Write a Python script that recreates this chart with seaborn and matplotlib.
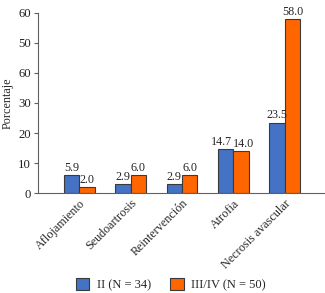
import matplotlib
matplotlib.use("Agg")
import matplotlib.pyplot as plt
import seaborn as sns
import pandas as pd

categories = ["Aflojamiento", "Seudoartrosis", "Reintervención", "Atrofia", "Necrosis avascular"]
series_names = ["II (N = 34)", "III/IV (N = 50)"]
values_ii = [5.9, 2.9, 2.9, 14.7, 23.5]
values_iiiiv = [2.0, 6.0, 6.0, 14.0, 58.0]
ytick_values = [0, 10, 20, 30, 40, 50, 60]
ytick_labels = ["0", "10", "20", "30", "60", "50", "60"]
colors = ["#4472C4", "#FF6600"]

rows = []
for c, a, b in zip(categories, values_ii, values_iiiiv):
    rows.append({"cat": c, "serie": series_names[0], "val": a})
    rows.append({"cat": c, "serie": series_names[1], "val": b})
df = pd.DataFrame(rows)

sns.set_style("white")
plt.rcParams["font.family"] = ["Liberation Serif", "DejaVu Serif"]
FS = 8.7

fig = plt.figure(figsize=(3.25, 2.93), dpi=100)
ax = fig.add_axes([0.117, 0.341, 0.883, 0.615])
sns.barplot(data=df, x="cat", y="val", hue="serie", palette=colors, width=0.6,
            edgecolor="#3a3a3a", linewidth=0.8, ax=ax, saturation=1)

for ci, cont in enumerate(ax.containers):
    texts = ax.bar_label(cont, fmt="%.1f", padding=1, fontsize=FS, clip_on=False)
    # nudge the crowded pair in the 4th group apart
    t = texts[3]
    dx = -3 if ci == 0 else 2
    t.xyann = (t.xyann[0] + dx, t.xyann[1])

ax.set_ylim(0, 60)
ax.set_xlim(-0.8, 4.78)
ax.set_yticks(ytick_values)
ax.set_yticklabels(ytick_labels, fontsize=FS + 0.5)
ax.set_xticks(range(len(categories)))
ax.set_xticklabels(categories, rotation=45, ha="right", rotation_mode="anchor", fontsize=FS)
ax.tick_params(axis="x", length=0, pad=3)
ax.tick_params(axis="y", length=3, width=0.8, direction="out", pad=2, left=True, colors="#222222")
ax.tick_params(axis="y", color="#606060")
ax.set_xlabel("")
ax.set_ylabel("Porcentaje", fontsize=FS, labelpad=3)
for s in ["top", "right"]:
    ax.spines[s].set_visible(False)
for s in ["left", "bottom"]:
    ax.spines[s].set_color("#606060")
    ax.spines[s].set_linewidth(0.8)

handles, labels = ax.get_legend_handles_labels()
ax.get_legend().remove()
fig.legend(handles, labels, loc="center", bbox_to_anchor=(0.525, 0.03), ncol=2,
           frameon=False, fontsize=FS + 0.3, handlelength=1.1, handleheight=1.1,
           columnspacing=1.5, handletextpad=0.6)

fig.savefig("out.png", dpi=100)
